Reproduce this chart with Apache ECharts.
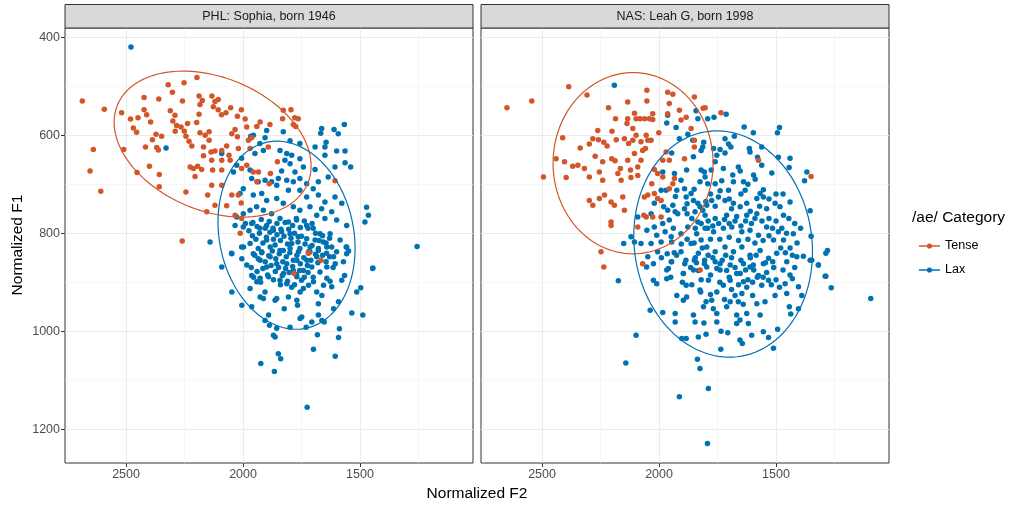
<!DOCTYPE html>
<html>
<head>
<meta charset="utf-8">
<script src="https://cdn.jsdelivr.net/npm/echarts@6/dist/echarts.min.js"></script>
<style>
  html, body { margin: 0; padding: 0; background: #fff; }
  #chart { width: 1013px; height: 507px; }
</style>
</head>
<body>
<div id="chart"></div>
<script>
// /ae/ tense vs lax, two speakers, F2 x F1 (both axes reversed)
var FONT = '"Liberation Sans", Arial, Helvetica, sans-serif';
var TENSE = '#D3562B';
var LAX = '#0072B2';

var panelTitles = ['PHL: Sophia, born 1946', 'NAS: Leah G, born 1998'];
var xMajor = [1500, 2000, 2500];
var xMinor = [1250, 1750, 2250, 2750];
var yMajor = [400, 600, 800, 1000, 1200];
var yMinor = [500, 700, 900, 1100];

// ellipse: [centre F2, centre F1, half-width F2, half-height F1, correlation]
var phlTenseEllipse = [2130, 618, 421, 149, -0.30];
var phlLaxEllipse = [1814, 804, 293, 192, -0.14];
var nasTenseEllipse = [2111, 657, 342, 185, 0.0];
var nasLaxEllipse = [1726, 822, 382, 231, -0.07];

// [F2, F1]
var phlTense = [
  [2687,530],[2593,547],[2640,629],[2654,673],[2608,714],[2519,554],[2510,629],[2453,676],[2481,567],[2449,564],
  [2469,585],[2455,594],[2423,523],[2423,548],[2412,558],[2395,573],[2417,624],[2387,609],[2372,598],[2348,602],
  [2369,625],[2362,630],[2400,663],[2358,680],[2358,705],[2360,526],[2320,497],[2302,512],[2252,493],[2197,482],
  [2311,550],[2291,559],[2300,571],[2284,580],[2290,592],[2259,530],[2265,583],[2251,592],[2244,602],[2231,612],
  [2219,622],[2237,576],[2198,574],[2188,557],[2184,537],[2188,520],[2174,529],[2184,595],[2162,600],[2145,593],
  [2145,610],[2133,520],[2120,531],[2106,527],[2106,548],[2127,542],[2092,558],[2073,554],[2053,544],[2007,548],
  [2024,561],[1991,567],[2034,588],[2024,603],[2048,597],[2070,622],[2091,631],[2120,632],[2137,634],[2169,624],
  [2169,642],[2134,651],[2091,651],[2055,651],[2060,641],[2212,668],[2226,665],[2194,663],[2177,670],[2205,684],
  [2130,671],[2091,671],[2134,702],[2091,702],[2151,722],[2120,743],[2070,744],[2048,722],[2244,716],[2155,756],
  [1977,610],[1963,605],[1927,573],[1941,582],[1984,583],[1970,627],[2020,627],[2006,668],[1984,661],[1934,675],
  [1941,695],[2020,722],[2008,738],[2012,800],[2260,816],[1828,549],[1795,548],[1831,566],[1779,564],[1764,566],
  [1785,578],[1775,582],[1885,578],[1892,624],[1853,654],[1883,678],[1888,699],[1607,693],[1718,840],[2034,763],
  [1956,675],[2006,770],[1721,841],[1667,855],[1782,882]
];

var phlLax = [
  [2479,420],[1256,827],[1726,1155],[2329,626],[2091,637],[1967,602],[2141,818],
  [1567,578],[1611,588],[1593,597],[1664,586],[1668,596],[1645,614],[1650,624],[1692,624],[1600,632],[1564,632],
  [1650,641],[1564,656],[1540,665],[1607,665],[1692,670],[1742,665],[1757,648],[1757,617],[1799,611],[1828,593],
  [1899,590],[1906,605],[1956,600],[1928,617],[1842,631],[1813,637],[1792,641],[1821,651],[1799,658],[1835,673],
  [1778,675],[1849,688],[1813,692],[1785,695],[1757,688],[1728,699],[1700,709],[1678,695],[1636,685],[1607,726],
  [1650,736],[1678,722],[1728,726],[1757,712],[1806,712],[1856,702],[1878,695],[1906,692],[1935,695],[1963,688],
  [1970,671],[1999,709],[2013,719],[1956,722],[1920,719],[1899,733],[1856,729],[1828,739],[1785,746],[1757,753],
  [1714,746],[1685,763],[1664,750],[1650,770],[1621,756],[1600,773],[1557,784],[1578,739],[1472,747],[1464,763],
  [1479,777],[1557,828],[1585,814],[1628,801],[1671,801],[1700,790],[1728,784],[1771,773],[1806,777],[1842,770],
  [1878,760],[1913,753],[1942,746],[1970,753],[1999,760],[2027,767],[2034,784],[1999,787],[1963,780],[1928,790],
  [1899,784],[1870,794],[1835,797],[1799,801],[1764,807],[1728,811],[1692,814],[1657,818],[1621,828],[2049,841],
  [2006,828],[1970,821],[1935,831],[1899,814],[1863,824],[1828,835],[1792,821],[1757,831],[1714,838],[1678,831],
  [1643,841],[1600,838],[2027,661],[2041,675],[2006,647],[1949,637],[1913,631],
  [2048,842],[2091,869],[2048,920],[2005,947],[1963,950],[1970,913],[1941,899],[1927,892],[1963,886],[1984,865],
  [2005,852],[1998,828],[1956,842],[1927,855],[1899,869],[1891,889],[1906,920],[1927,930],[1913,933],[1863,937],
  [1856,933],[1824,954],[1806,930],[1770,937],[1767,947],[1749,971],[1756,974],[1799,992],[1891,967],[1906,978],
  [1887,988],[1856,994],[1870,1008],[1863,1012],[1730,992],[1706,981],[1663,978],[1653,981],[1678,967],[1682,1007],
  [1588,995],[1592,1013],[1699,1037],[1606,1051],[1849,1046],[1839,1056],[1924,1066],[1866,1082],[1678,944],[1685,920],
  [1663,927],[1656,906],[1621,909],[1628,898],[1592,940],[1613,954],[1535,963],[1488,967],[1514,920],[1497,911],
  [1445,871],[1578,896],[1566,886],[1642,892],[1671,879],[1699,899],[1720,906],[1742,913],[1756,920],[1792,910],
  [1770,889],[1813,903],[1842,896],[1827,882],[1785,876],[1742,876],[1706,869],[1642,869],[1606,862],[1571,858],
  [1557,842],[1549,836],[1559,828],[1642,828],[1613,848],[1685,848],[1727,855],[1770,855],[1813,862],[1856,862],
  [1884,848],[1920,838],[1884,828],[1842,835],[1799,831],[1763,838],[1713,828],[1678,835],[1446,872],
  [1960,805],[1945,812],[1930,800],[1915,820],[1900,808],[1885,798],[1870,812],[1855,803],[1840,815],[1825,806],
  [1810,822],[1795,810],[1780,800],[1765,818],[1750,806],[1735,822],[1720,838],[1705,825],[1690,843],
  [1950,845],[1935,852],[1920,840],[1905,858],[1890,846],[1875,836],[1860,852],[1845,842],[1830,858],[1815,848],
  [1800,840],[1785,855],[1770,845],[1755,862],[1740,850],[1725,866],[1710,855],
  [1965,870],[1940,878],[1915,872],[1895,885],[1880,866],[1862,878],[1848,870],[1832,886],[1818,872],[1803,880],
  [1788,868],[1772,884],[1758,876],[1738,890],[1722,880],
  [1955,890],[1925,900],[1870,895],[1840,905],[1810,898],[1780,905],[1750,896],[1700,890],[1680,860],[1660,845],
  [1645,858],[1630,848],[1615,870],
  [1990,780],[1975,795],[1958,778],[1940,786],[1922,772],[1905,790],[1888,776],[1872,790],[1855,780],[1838,792],
  [1820,778],[1805,792],[1788,784],[1772,770],[1755,788],[1738,775],[1722,790],[1705,780],[1690,800],[1675,815],
  [1660,805],[1645,820],[1630,810]
];

var nasTense = [
  [2650,544],[2544,530],[2494,685],[2386,501],[2308,518],[2412,605],[2440,648],[2404,654],[2397,686],[2369,663],
  [2347,661],[2337,626],[2319,668],[2298,685],[2298,618],[2283,607],[2262,590],[2259,609],[2236,614],[2222,622],
  [2273,643],[2241,654],[2255,675],[2241,692],[2233,722],[2255,729],[2298,733],[2283,743],[2216,544],[2201,592],
  [2202,648],[2188,652],[2183,609],[2186,566],[2205,736],[2191,743],[2176,678],[2165,668],[2162,692],[2148,753],
  [2155,726],[2205,777],[2205,784],[2134,532],[2137,576],[2134,566],[2105,555],[2098,566],[2112,586],[2098,600],
  [2112,610],[2130,617],[2148,607],[2134,651],[2105,637],[2122,671],[2120,686],[2091,682],[2091,665],[2077,651],
  [2070,631],[2058,627],[2077,613],[2055,600],[2048,610],[2034,610],[2081,566],[2062,566],[2041,566],[2052,530],
  [2052,508],[2027,556],[2027,568],[2001,595],[1984,651],[1970,634],[1956,651],[2020,670],[2006,678],[1984,685],
  [2063,726],[2048,722],[2020,719],[2006,729],[1991,733],[2065,763],[2055,767],[2091,787],[2027,767],[1991,767],
  [1963,512],[1941,516],[1956,535],[1963,556],[1913,549],[1906,569],[1863,586],[1849,522],[1884,563],[1891,648],
  [1934,688],[1941,699],[1956,709],[1849,624],[1849,610],[2248,838],[2236,869],[2070,862],[1735,554],[1803,544],
  [1575,651],[1350,684],[2031,699],[1824,875],[1812,545]
];

var nasLax = [
  [2191,498],[1963,559],[1967,575],[1927,584],[1834,566],[1877,598],[1842,550],[1792,566],[1856,610],[1813,624],
  [1820,631],[1809,614],[1913,607],[1946,636],[1934,678],[1984,675],[1991,712],[1970,712],[1941,743],[1963,753],
  [1980,746],[2020,739],[2034,760],[2091,767],[2105,818],[2151,821],[2120,807],[2052,794],[2020,787],[1984,780],
  [1956,773],[1920,760],[1891,750],[1884,726],[1863,719],[1891,709],[1906,692],[1820,671],[1806,675],[1777,671],
  [1792,699],[1834,739],[1813,753],[1834,777],[1877,787],[1906,801],[1948,807],[1991,818],[2034,821],[2077,821],
  [2006,838],[2048,848],[1948,858],[1906,838],[1863,821],[1820,814],[1792,790],[1849,855],[1806,862],
  [1713,557],[1765,563],[1636,583],[1597,595],[1485,584],[1494,595],[1678,602],[1718,607],[1703,618],[1693,624],
  [1739,629],[1767,627],[1753,641],[1718,636],[1760,654],[1853,644],[1882,671],[1803,685],[1825,695],[1725,668],
  [1661,665],[1653,673],[1685,681],[1732,693],[1760,699],[1739,713],[1703,712],[1682,695],[1639,695],[1632,712],
  [1611,634],[1614,627],[1579,645],[1561,624],[1518,677],[1596,681],[1589,690],[1554,711],[1568,719],[1582,729],
  [1554,726],[1625,739],[1653,746],[1682,739],[1718,733],[1746,726],[1775,733],[1796,743],[1825,746],[1853,733],
  [1924,712],[1931,756],[1846,756],[1803,763],[1760,770],[1711,763],[1668,766],[1625,763],[1582,760],[1540,750],
  [1504,739],[1483,746],[1468,763],[1440,736],[1378,693],[1368,675],[1354,754],[1440,647],[1444,666],[1490,645],
  [1561,661],[1350,806],[1383,847],[1347,855],[1319,865],[1280,835],[1287,841],[1290,888],[1426,801],[1468,814],
  [1490,797],[1511,814],[1540,787],[1575,804],[1611,794],[1646,797],[1689,787],[1725,790],[1767,797],[1803,790],
  [1839,801],[1939,790],[1974,797],[2010,804],[1946,818],[1832,841],[1796,828],[1760,838],[1718,828],[1682,838],
  [1646,828],[1611,845],[1568,835],[1532,851],[1497,841],[1454,858],[1411,848],[1896,882],[1853,875],[1796,869],
  [1739,875],[1696,865],[1653,882],[1611,869],[1575,886],[1967,875],[2024,862],
  [2174,897],[2098,1008],[2142,1065],[2038,957],[1984,962],[2024,896],[2010,903],[1967,893],[1960,872],[2053,869],
  [1931,964],[1931,981],[1903,1015],[1884,1015],[1924,927],[1896,937],[1882,930],[1884,906],[1896,882],[1853,967],
  [1846,981],[1832,1012],[1808,983],[1799,1006],[1799,940],[1775,937],[1768,954],[1753,981],[1753,964],[1735,1000],
  [1706,1003],[1736,1037],[1836,1057],[1825,1076],[1789,1117],[1913,1134],[1793,1229],[1825,916],[1822,920],[1789,896],
  [1753,920],[1725,906],[1696,896],[1675,927],[1646,923],[1661,940],[1696,940],[1711,950],[1668,967],[1654,977],
  [1668,984],[1625,964],[1618,984],[1654,1018],[1644,1025],[1604,1008],[1554,1001],[1532,1013],[1511,1035],[1493,996],
  [1568,967],[1582,944],[1547,940],[1600,927],[1561,906],[1532,896],[1625,910],[1639,899],[1668,882],[1711,876],
  [1753,872],[1504,927],[1454,923],[1443,950],[1404,954],[1437,965],[1461,903],[1430,893],[1404,909],[1390,927],
  [1354,855],[1319,865],[1287,888],[1264,911],[1095,933],[1514,858],[1554,862],[1597,865],[1639,862],[1739,862],
  [1832,876],[1946,858],
  [1950,890],[1900,900],[1860,905],[1820,895],[1780,885],[1740,900],[1700,890],[1660,905],[1620,895],[1580,890],
  [1540,880],[1500,895],[1470,875],[1440,885],[1420,870],[1925,845],[1885,855],[1845,850],[1805,855],[1770,850],
  [1730,855],[1690,850],[1650,855],[1610,850],[1585,845],[1545,860],[1510,870],[1480,830],[1440,830],
  [1880,760],[1860,770],[1845,790],[1820,780],[1790,775],[1770,785],[1745,780],[1720,772],[1700,780],[1675,775],
  [1650,785],[1630,775],[1605,780],[1590,770],[1560,775],[1530,770],[1515,790],[1500,775],[1475,790],[1455,800],
  [1530,805],[1555,815],[1590,820],[1620,812],[1660,815],[1700,808],[1740,812],[1780,812],[1815,830],[1850,820],
  [1880,812],[1905,822],[1935,840],[1965,842],[1990,850],[1890,862],[1865,870],[1840,860],[1790,845],[1760,858],
  [1715,845],[1675,870],[1630,875],[1595,875],[1555,890],[1520,905],[1485,910],[1460,840],[1430,845],[1410,820],
  [1395,790],[1420,780],[1445,770],[1500,720],[1530,730],[1470,720],[1620,700],[1650,720],[1700,730],[1780,720],
  [1850,710],[1690,750],[1610,755],[1570,745],[1760,745],[1800,735],[1880,740],[1930,725],[1720,935],[1690,915],
  [1640,945],[1600,900],[1780,925],[1810,950]
];

// line-with-dot key, 21x14 box (tiny corner marks pin the box)
var LEGEND_ICON = 'path://M0,0L0.01,0L0,0.01Z M21,14L20.99,14L21,13.99Z ' +
  'M0,6.3L21,6.3L21,7.7L0,7.7Z M13.1,7A2.6,2.6 0 1 1 7.9,7A2.6,2.6 0 1 1 13.1,7Z';

function plain(v) { return String(v); }

function ellipseRender(params, api) {
  var cx = api.value(0), cy = api.value(1), w = api.value(2), h = api.value(3), r = api.value(4);
  var s = Math.sqrt(1 - r * r);
  var pts = [];
  for (var i = 0; i <= 120; i++) {
    var t = Math.PI * 2 * i / 120;
    pts.push(api.coord([cx + w * Math.cos(t), cy + h * (r * Math.cos(t) + s * Math.sin(t))]));
  }
  return { type: 'polyline', shape: { points: pts },
    style: { stroke: api.visual('color'), lineWidth: 1.2, fill: null } };
}

function xAxes(gridIndex) {
  return [{
    type: 'value', gridIndex: gridIndex, min: 1017, max: 2761, inverse: true, position: 'bottom',
    axisLine: { show: false },
    axisTick: { show: true, length: 4, customValues: xMajor, lineStyle: { color: '#333333' } },
    axisLabel: { customValues: xMajor, formatter: plain, color: '#4D4D4D', fontSize: 12.5, fontFamily: FONT, margin: 5 },
    splitLine: { show: true, lineStyle: { color: '#EBEBEB', width: 1.1 } }
  }, {
    type: 'value', gridIndex: gridIndex, min: 1017, max: 2761, inverse: true, position: 'top',
    axisLine: { show: false }, axisLabel: { show: false },
    axisTick: { show: false, customValues: xMinor },
    splitLine: { show: true, lineStyle: { color: '#F2F2F2', width: 0.6 } }
  }];
}

function yAxes(gridIndex, showLabels) {
  return [{
    type: 'value', gridIndex: gridIndex, min: 381, max: 1269, inverse: true, position: 'left',
    axisLine: { show: false },
    axisTick: { show: showLabels, length: 4, customValues: yMajor, lineStyle: { color: '#333333' } },
    axisLabel: { show: showLabels, customValues: yMajor, formatter: plain, color: '#4D4D4D', fontSize: 12.5, fontFamily: FONT, margin: 5 },
    splitLine: { show: true, lineStyle: { color: '#EBEBEB', width: 1.1 } }
  }, {
    type: 'value', gridIndex: gridIndex, min: 381, max: 1269, inverse: true, position: 'right',
    axisLine: { show: false }, axisLabel: { show: false },
    axisTick: { show: false, customValues: yMinor },
    splitLine: { show: true, lineStyle: { color: '#F2F2F2', width: 0.6 } }
  }];
}

function scatter(name, data, axis, color) {
  return { name: name, type: 'scatter', xAxisIndex: axis, yAxisIndex: axis, data: data,
    symbolSize: 5.5, itemStyle: { color: color, opacity: 1 }, z: 2 };
}

function ellipse(name, params, axis, color) {
  return { name: name, type: 'custom', xAxisIndex: axis, yAxisIndex: axis, data: [params],
    encode: { x: 0, y: 1 }, renderItem: ellipseRender, itemStyle: { color: color }, z: 3, silent: true };
}

var chart = echarts.init(document.getElementById('chart'), null, { renderer: 'canvas' });

var strips = [];
[[65, panelTitles[0]], [481, panelTitles[1]]].forEach(function (p) {
  strips.push({ type: 'rect', shape: { x: p[0], y: 4.5, width: 408, height: 23.5 },
    style: { fill: '#D9D9D9', stroke: '#333333', lineWidth: 1 }, z: 10 });
  strips.push({ type: 'text', x: p[0] + 204, y: 16.5, z: 11,
    style: { text: p[1], fill: '#1A1A1A', fontSize: 12.5, fontFamily: FONT, align: 'center', verticalAlign: 'middle' } });
});

chart.setOption({
  animation: false,
  backgroundColor: '#fff',
  grid: [
    { left: 65, top: 28, width: 408, height: 435, show: true, backgroundColor: '#fff', borderColor: '#333333', borderWidth: 1 },
    { left: 481, top: 28, width: 408, height: 435, show: true, backgroundColor: '#fff', borderColor: '#333333', borderWidth: 1 }
  ],
  xAxis: xAxes(0).concat(xAxes(1)),
  yAxis: yAxes(0, true).concat(yAxes(1, false)),
  legend: {
    orient: 'vertical', left: 914, top: 234, itemWidth: 21, itemHeight: 14, itemGap: 10,
    selectedMode: false,
    textStyle: { color: '#000', fontSize: 12.5, fontFamily: FONT, lineHeight: 14 },
    data: [{ name: 'Tense', icon: LEGEND_ICON }, { name: 'Lax', icon: LEGEND_ICON }]
  },
  graphic: strips.concat([
    { type: 'text', x: 477, y: 494,
      style: { text: 'Normalized F2', fill: '#000', fontSize: 15.5, fontFamily: FONT, align: 'center', verticalAlign: 'middle' } },
    { type: 'text', x: 18, y: 245, rotation: Math.PI / 2,
      style: { text: 'Normalized F1', fill: '#000', fontSize: 15.5, fontFamily: FONT, align: 'center', verticalAlign: 'middle' } },
    { type: 'text', x: 912, y: 218,
      style: { text: '/ae/ Category', fill: '#000', fontSize: 15.5, fontFamily: FONT, align: 'left', verticalAlign: 'middle' } }
  ]),
  series: [
    scatter('Lax', phlLax, 0, LAX),
    scatter('Tense', phlTense, 0, TENSE),
    scatter('Lax', nasLax, 2, LAX),
    scatter('Tense', nasTense, 2, TENSE),
    ellipse('phl tense ellipse', phlTenseEllipse, 0, TENSE),
    ellipse('phl lax ellipse', phlLaxEllipse, 0, LAX),
    ellipse('nas tense ellipse', nasTenseEllipse, 2, TENSE),
    ellipse('nas lax ellipse', nasLaxEllipse, 2, LAX)
  ]
});
</script>
</body>
</html>
